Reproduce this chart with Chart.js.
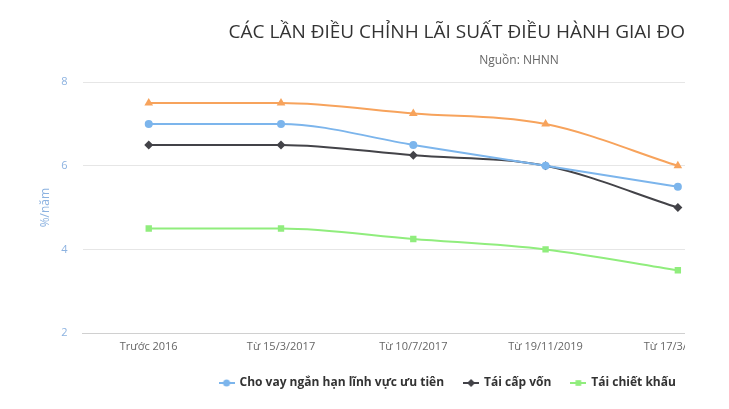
<!DOCTYPE html>
<html>
<head>
<meta charset="utf-8">
<script src="https://cdn.jsdelivr.net/npm/chart.js@4"></script>
<style>
  html, body { margin: 0; padding: 0; background: #fff; }
  #wrap { width: 685px; height: 409px; overflow: hidden; position: relative; }
  #box { width: 1040px; height: 409px; }
</style>
</head>
<body>
<div id="wrap"><div id="box"><canvas id="myChart"></canvas></div></div>
<script>
// categories (x axis) - the chart is cropped on the right, so only 5 show
const categories = ['Trước 2016', 'Từ 15/3/2017', 'Từ 10/7/2017', 'Từ 19/11/2019', 'Từ 17/3/2020'];

// series values (%/năm)
const choVayUuTien = [7, 7, 6.5, 6, 5.5];
const taiCapVon = [6.5, 6.5, 6.25, 6, 5];
const taiChietKhau = [4.5, 4.5, 4.25, 4, 3.5];
const choVayQuaDem = [7.5, 7.5, 7.25, 7, 6];

// y axis ticks
const yTicks = [2, 4, 6, 8];

const FONT = '"Open Sans", "DejaVu Sans", sans-serif';

function toPoints(arr) {
    return arr.map((v, i) => ({ x: i, y: v }));
}

// small legend icon: line with marker in the middle (like the original)
function legendIcon(color, style, radius) {
    const c = document.createElement('canvas');
    c.width = 16; c.height = 12;
    const g = c.getContext('2d');
    g.strokeStyle = color;
    g.fillStyle = color;
    g.lineWidth = 2;
    g.beginPath();
    g.moveTo(0, 6);
    g.lineTo(16, 6);
    g.stroke();
    Chart.helpers.drawPoint(g, { pointStyle: style, radius: radius, rotation: 0, borderWidth: 0 }, 8, 6);
    return c;
}

const seriesDefs = [
    { label: 'Cho vay ngắn hạn lĩnh vực ưu tiên', data: choVayUuTien, color: '#7cb5ec', style: 'circle', r: 4 },
    { label: 'Tái cấp vốn', data: taiCapVon, color: '#434348', style: 'rectRot', r: 4.5 },
    { label: 'Tái chiết khấu', data: taiChietKhau, color: '#90ed7d', style: 'rect', r: 4.5 },
    { label: 'Cho vay qua đêm', data: choVayQuaDem, color: '#f7a35c', style: 'triangle', r: 5 }
];

let ctx = document.getElementById('myChart').getContext('2d');
let chart = new Chart(ctx, {
    type: 'line',
    data: {
        datasets: seriesDefs.map(s => ({
            label: s.label,
            data: toPoints(s.data),
            borderColor: s.color,
            backgroundColor: s.color,
            pointStyle: s.style,
            pointRadius: s.r,
            pointHoverRadius: s.r,
            pointBorderWidth: 0,
            borderWidth: 2,
            cubicInterpolationMode: 'monotone',
            fill: false
        }))
    },
    options: {
        responsive: true,
        maintainAspectRatio: false,
        animation: false,
        layout: { padding: { left: 0, right: 2, top: 0, bottom: 10 } },
        plugins: {
            title: {
                display: true,
                text: 'CÁC LẦN ĐIỀU CHỈNH LÃI SUẤT ĐIỀU HÀNH GIAI ĐOẠN 2016-2020',
                color: '#333333',
                font: { family: FONT, size: 19, weight: 'normal' },
                padding: { top: 21, bottom: 10 }
            },
            subtitle: {
                display: true,
                text: 'Nguồn: NHNN',
                color: '#666666',
                font: { family: FONT, size: 12 },
                padding: { bottom: 14 }
            },
            legend: {
                position: 'bottom',
                labels: {
                    usePointStyle: true,
                    pointStyleWidth: 14,
                    padding: 20,
                    color: '#333333',
                    font: { family: FONT, size: 12, weight: 'bold' },
                    generateLabels: function (c) {
                        const items = Chart.defaults.plugins.legend.labels.generateLabels(c);
                        items.forEach(it => {
                            const s = seriesDefs[it.datasetIndex];
                            it.pointStyle = legendIcon(s.color, s.style, s.r - 0.5);
                        });
                        return items;
                    }
                }
            },
            tooltip: { enabled: false }
        },
        scales: {
            x: {
                type: 'linear',
                min: -0.5,
                max: 6.7,
                afterBuildTicks: function (scale) {
                    scale.ticks = [0, 1, 2, 3, 4, 5, 6].map(v => ({ value: v }));
                },
                afterFit: function (scale) {
                    scale.height = 24;
                },
                ticks: {
                    color: '#666666',
                    padding: 7.5,
                    maxRotation: 0,
                    autoSkip: false,
                    font: { family: FONT, size: 11 },
                    callback: v => categories[v] || ''
                },
                grid: { display: false, drawTicks: false },
                border: { color: '#d0d0d0', width: 1 }
            },
            y: {
                min: 2,
                max: 8,
                afterBuildTicks: function (scale) {
                    scale.ticks = yTicks.map(v => ({ value: v }));
                },
                afterFit: function (scale) {
                    scale.width = 82.6;
                },
                title: {
                    display: true,
                    text: '%/năm',
                    color: '#8cb2e0',
                    font: { family: FONT, size: 12 },
                    padding: { top: 38, bottom: 0 }
                },
                ticks: {
                    color: '#8cb2e0',
                    padding: 15,
                    font: { family: FONT, size: 11 }
                },
                grid: { color: '#e6e6e6', drawTicks: false },
                border: { display: false }
            }
        }
    }
});
</script>
</body>
</html>
